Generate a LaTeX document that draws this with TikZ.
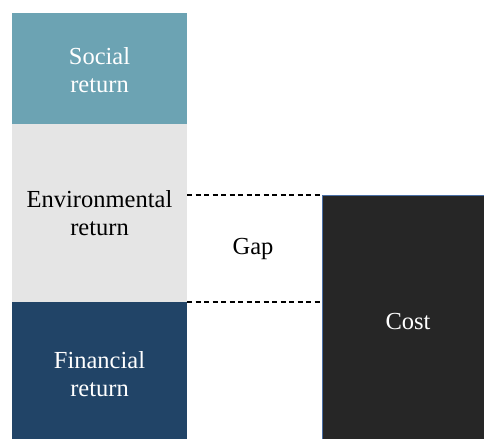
\documentclass[tikz,border=0pt]{standalone}
\usepackage{fontspec}
\setmainfont{Liberation Serif}
\newfontfamily\timesfont{Liberation Serif}
\definecolor{socialc}{HTML}{6CA3B3}
\definecolor{envc}{HTML}{E5E5E5}
\definecolor{finc}{HTML}{214467}
\definecolor{costc}{HTML}{262626}
\definecolor{costborder}{HTML}{4A6FA5}
\begin{document}
\begin{tikzpicture}[x=1pt,y=-1pt,
  lbl/.style={align=center,font=\timesfont\fontsize{24.5}{28}\selectfont},
  gapline/.style={line width=1.1pt,dash pattern=on 5pt off 3.5pt}]
\useasboundingbox (0,0) rectangle (484,439);
\fill[socialc] (12,13) rectangle (187,124);
\fill[envc] (12,124) rectangle (187,302);
\fill[finc] (12,302) rectangle (187,439);
\fill[costc] (322,195) rectangle (484,439);
\draw[costborder,line width=0.8pt] (322,439) -- (322,195) -- (484,195);
\node[lbl,text=white] (social) at (99.5,70) {Social\\return};
\node[lbl,text=black] (env) at (99.5,213) {Environmental\\return};
\node[lbl,text=white] (fin) at (99.5,374) {Financial\\return};
\node[lbl,text=white] (cost) at (408,322) {Cost};
\node[lbl,text=black] (gap) at (253,249) {Gap};
\coordinate (t1) at (187,195);
\coordinate (t2) at (322,195);
\coordinate (b1) at (187,302);
\coordinate (b2) at (322,302);
\draw[gapline] (t1) -- (t2);
\draw[gapline] (b1) -- (b2);
\end{tikzpicture}
\end{document}
